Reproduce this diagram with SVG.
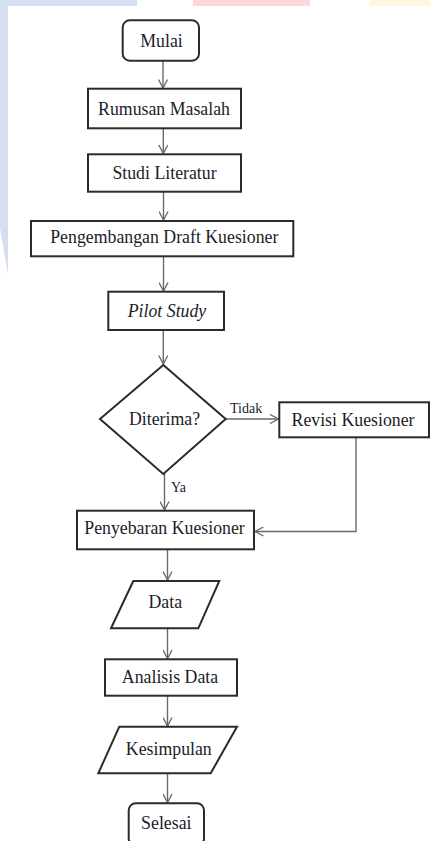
<svg xmlns="http://www.w3.org/2000/svg" width="430" height="841" viewBox="0 0 430 841">
<style>
.box{fill:#fff;stroke:#2b2b2b;stroke-width:2}
.t{font-family:'Liberation Serif','Times New Roman','DejaVu Serif',serif;font-size:17.8px;fill:#1c1c28;text-anchor:middle}
.s{font-family:'Liberation Serif','Times New Roman','DejaVu Serif',serif;font-size:14px;fill:#1c1c28}
.c{fill:none;stroke:#6a6a6a;stroke-width:1.4}
</style>
<defs>
<marker id="a" viewBox="0 0 10 10" refX="9.5" refY="5" markerWidth="10" markerHeight="10" markerUnits="userSpaceOnUse" orient="auto">
<path d="M1,0.5 L9.5,5 L1,9.5" fill="none" stroke="#6a6a6a" stroke-width="1.4"/>
</marker>
</defs>
<rect width="430" height="841" fill="#fff"/>
<g id="bg">
<polygon points="0,0 137,0 137,6 8,6 8,275 0,228" fill="#d5dff0"/>
<rect x="193" y="0" width="117" height="6" fill="#ffd6d9"/>
<rect x="370" y="0" width="60" height="6" fill="#fcf7e3"/>
</g>
<g id="connectors">
<path class="c" d="M163,61 V88" marker-end="url(#a)"/>
<path class="c" d="M163.3,128.5 V153.5" marker-end="url(#a)"/>
<path class="c" d="M163.5,192 V220" marker-end="url(#a)"/>
<path class="c" d="M163.5,256.5 V291" marker-end="url(#a)"/>
<path class="c" d="M163.3,330 V364" marker-end="url(#a)"/>
<path class="c" d="M226,419 H278.5" marker-end="url(#a)"/>
<path class="c" d="M164.5,474 V510" marker-end="url(#a)"/>
<path class="c" d="M356,437.5 V531.5 H255" marker-end="url(#a)"/>
<path class="c" d="M167.5,549.5 V580" marker-end="url(#a)"/>
<path class="c" d="M167.5,628.5 V658.5" marker-end="url(#a)"/>
<path class="c" d="M167.5,696 V726" marker-end="url(#a)"/>
<path class="c" d="M167.5,773.5 V802.5" marker-end="url(#a)"/>
<text class="s" x="230" y="412.5" font-family="Liberation Serif">Tidak</text>
<text class="s" x="171" y="491.5" font-family="Liberation Serif">Ya</text>
</g>
<g id="mulai">
<rect class="box" x="122.7" y="20.3" width="76.3" height="40.4" rx="7"/>
<text class="t" x="161.5" y="46.7" font-family="Liberation Serif">Mulai</text>
</g>
<g id="rumusan">
<rect class="box" x="88" y="88.7" width="153" height="39.6"/>
<text class="t" x="164" y="115" font-family="Liberation Serif">Rumusan Masalah</text>
</g>
<g id="studi">
<rect class="box" x="88" y="154.3" width="153" height="37.4"/>
<text class="t" x="164.5" y="178.7" font-family="Liberation Serif">Studi Literatur</text>
</g>
<g id="pengembangan">
<rect class="box" x="31" y="221" width="262.3" height="35.3"/>
<text class="t" x="164.3" y="242.7" font-family="Liberation Serif">Pengembangan Draft Kuesioner</text>
</g>
<g id="pilot">
<rect class="box" x="108.3" y="291.7" width="115.7" height="38.3"/>
<text class="t" x="167" y="317" font-style="italic" font-family="Liberation Serif">Pilot Study</text>
</g>
<g id="diterima">
<polygon class="box" points="163.3,365 225.7,419 163.3,474 100,419"/>
<text class="t" x="164.5" y="424.5" font-family="Liberation Serif">Diterima?</text>
</g>
<g id="revisi">
<rect class="box" x="279.3" y="402.3" width="149.7" height="35"/>
<text class="t" x="353" y="426" font-family="Liberation Serif">Revisi Kuesioner</text>
</g>
<g id="penyebaran">
<rect class="box" x="77" y="510.7" width="177" height="38.6"/>
<text class="t" x="164.5" y="533.5" font-family="Liberation Serif">Penyebaran Kuesioner</text>
</g>
<g id="data">
<polygon class="box" points="133.3,581 219.3,581 198.3,628.3 111,628.3"/>
<text class="t" x="165.3" y="607.5" font-family="Liberation Serif">Data</text>
</g>
<g id="analisis">
<rect class="box" x="105" y="659.3" width="132" height="36.4"/>
<text class="t" x="170" y="682.5" font-family="Liberation Serif">Analisis Data</text>
</g>
<g id="kesimpulan">
<polygon class="box" points="119.3,726.7 237,726.7 210.7,773.3 98.3,773.3"/>
<text class="t" x="168.8" y="755" font-family="Liberation Serif">Kesimpulan</text>
</g>
<g id="selesai">
<rect class="box" x="128.7" y="803.3" width="75.3" height="42" rx="7"/>
<text class="t" x="166.3" y="828.5" font-family="Liberation Serif">Selesai</text>
</g>
</svg>
